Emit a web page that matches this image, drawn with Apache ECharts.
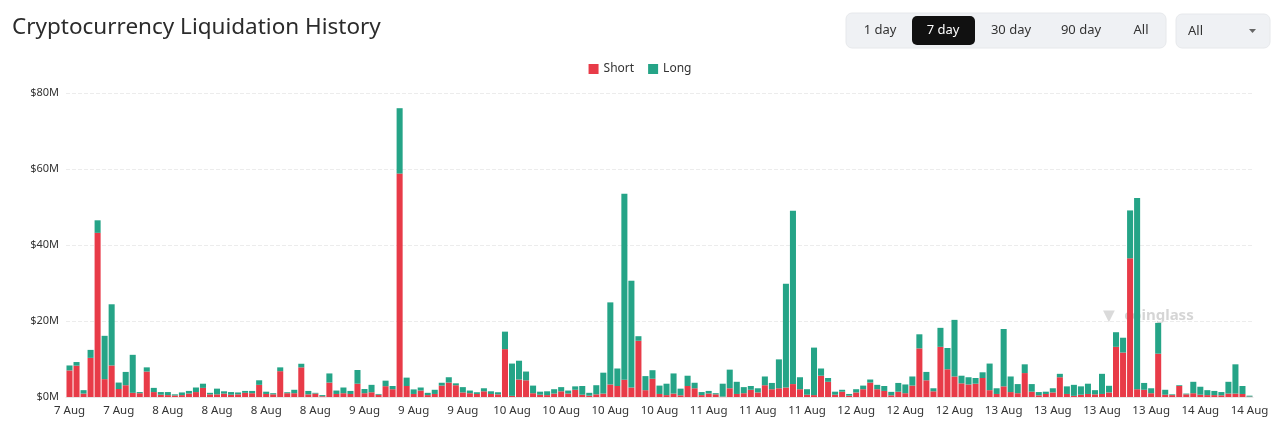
<!DOCTYPE html>
<html>
<head>
<meta charset="utf-8">
<script src="https://cdn.jsdelivr.net/npm/echarts@6/dist/echarts.min.js"></script>
<style>
html,body{margin:0;padding:0;background:#fff;}
#chart{width:1280px;height:435px;}
</style>
</head>
<body>
<div id="chart"></div>
<script>
// Hourly buckets starting 7 Aug 11:00, 169 bars
const startHourUTC = Date.UTC(2024, 7, 7, 11);
const barCount = 169;
const monthNames = ['Jan','Feb','Mar','Apr','May','Jun','Jul','Aug','Sep','Oct','Nov','Dec'];
const categories = [];
for (let i = 0; i < barCount; i++) {
  const d = new Date(startHourUTC + i * 3600000);
  categories.push(d.getUTCDate() + ' ' + monthNames[d.getUTCMonth()] + ' ' + String(d.getUTCHours()).padStart(2,'0') + ':00');
}

// values in $M
const shortValues = [
7.0,8.25,0.9,10.3,43.2,4.7,8.3,2.1,3.1,1.1,1.0,6.7,1.3,0.6,0.5,0.4,0.5,0.9,1.3,2.4,
0.7,0.7,0.9,0.6,0.7,1.1,1.0,3.2,0.8,0.7,6.8,1.0,1.0,7.8,0.7,0.9,0.2,3.8,0.8,1.0,
0.8,3.5,1.0,1.25,0.6,2.85,2.05,58.8,2.9,0.8,1.7,0.5,0.8,3.0,3.8,3.1,1.2,1.0,0.8,1.5,
0.8,0.7,12.6,0.3,4.6,4.4,1.0,0.6,0.5,0.9,1.5,0.9,1.9,0.6,0.35,0.7,0.9,3.3,2.9,4.55,
2.5,14.8,1.8,4.8,0.8,0.5,0.9,0.45,2.9,2.3,0.5,0.9,0.7,0.1,2.3,0.8,1.0,1.9,1.2,3.1,
2.05,2.3,2.5,3.4,2.05,0.6,0.5,5.6,4.0,0.6,1.4,0.35,1.2,2.05,3.8,2.05,1.6,0.45,1.4,1.0,
3.0,12.8,4.4,1.5,13.2,7.3,5.4,3.6,3.3,3.5,5.0,1.8,0.8,2.8,1.3,1.0,6.3,1.4,0.45,0.8,
1.2,5.2,0.8,0.3,0.6,0.8,0.7,0.8,1.2,13.2,11.7,36.5,2.05,1.9,1.0,11.4,0.6,0.5,2.9,0.7,
1.0,0.6,0.5,0.5,0.45,0.9,0.9,0.8,0.1
];
const longValues = [
1.3,0.95,0.9,2.1,3.3,11.4,16.1,1.7,3.5,10.0,0.3,1.1,1.1,0.7,0.8,0.3,0.7,0.7,1.2,1.1,
0.4,1.5,0.6,0.7,0.5,0.5,0.6,1.2,0.6,0.3,1.0,0.25,0.9,0.95,0.9,0.2,0.3,2.4,0.9,1.5,
0.8,3.6,1.1,1.95,0.2,1.45,0.85,17.2,2.2,1.2,0.8,0.6,1.1,0.75,1.4,0.5,1.4,0.7,0.45,0.8,
0.7,0.55,4.6,8.5,4.95,2.3,2.0,0.8,1.0,1.15,1.1,0.8,0.9,2.3,0.75,2.4,5.5,21.6,4.6,48.95,
28.1,1.2,3.7,2.25,2.2,3.0,5.3,1.75,2.7,1.45,0.8,0.7,0.3,3.4,4.9,3.2,1.6,1.0,1.1,2.3,
1.65,7.6,27.3,45.6,3.15,1.45,12.5,1.9,1.0,0.8,0.5,0.45,0.85,0.95,0.8,1.15,1.3,0.9,2.3,2.3,
2.4,3.7,2.2,0.8,5.0,5.6,14.9,2.0,1.9,1.5,1.5,7.0,1.5,15.1,4.1,2.4,2.3,2.0,0.85,0.6,
1.1,0.9,2.0,2.9,2.2,2.7,1.1,5.3,1.75,3.85,3.9,12.6,50.35,1.8,1.3,8.1,1.3,0.2,0.2,0.2,
3.0,2.1,1.3,1.1,0.85,3.1,7.7,2.1,0.25
];
const yTicks = [0, 20, 40, 60, 80];
const rangeButtons = ['1 day', '7 day', '30 day', '90 day', 'All'];
const selectedRange = '7 day';

const FONT = 'Noto Sans';
const RED = '#e83b48';
const GREEN = '#25a487';

const chart = echarts.init(document.getElementById('chart'));

// header controls as graphic elements
const btnCenters = [880, 943, 1011, 1081, 1141];
const graphics = [
  { type: 'text', x: 12, y: 28, style: { text: 'Cryptocurrency Liquidation History', font: '400 22.5px ' + FONT, fill: '#2b2b2b', textVerticalAlign: 'middle' } },
  { type: 'rect', shape: { x: 846, y: 13, width: 320, height: 35, r: 6 }, style: { fill: '#eff1f4', stroke: '#e6e8eb' } },
  { type: 'rect', shape: { x: 1176, y: 14, width: 94, height: 34, r: 6 }, style: { fill: '#eff1f4', stroke: '#e6e8eb' } },
  { type: 'text', x: 1188, y: 31, style: { text: 'All', font: '13px ' + FONT, fill: '#333', textVerticalAlign: 'middle' } },
  { type: 'polygon', shape: { points: [[1249, 29], [1256, 29], [1252.5, 33]] }, style: { fill: '#666' } },
  { type: 'text', x: 1109, y: 316, style: { text: '\u25BC', font: 'bold 20px ' + FONT, fill: 'rgba(150,150,150,0.35)', textAlign: 'center', textVerticalAlign: 'middle' } },
  { type: 'text', x: 1159, y: 316, style: { text: 'coinglass', font: 'bold 15px ' + FONT, fill: 'rgba(150,150,150,0.4)', textAlign: 'center', textVerticalAlign: 'middle' } }
];
rangeButtons.forEach((b, i) => {
  const sel = b === selectedRange;
  if (sel) {
    graphics.push({ type: 'rect', shape: { x: 912, y: 16, width: 63, height: 29, r: 5 }, style: { fill: '#111' } });
  }
  graphics.push({ type: 'text', x: btnCenters[i], y: 30.5, style: { text: b, font: '13px ' + FONT, fill: sel ? '#fff' : '#333', textAlign: 'center', textVerticalAlign: 'middle' } });
});

chart.setOption({
  animation: false,
  textStyle: { fontFamily: FONT },
  graphic: graphics,
  legend: {
    top: 58, left: 'center', itemWidth: 10, itemHeight: 10, itemGap: 14,
    icon: 'rect',
    textStyle: { fontSize: 12, color: '#333', fontFamily: FONT },
    data: ['Short', 'Long']
  },
  grid: { left: 66, right: 27, top: 93, bottom: 38 },
  xAxis: {
    type: 'category',
    data: categories,
    axisTick: { show: false },
    axisLine: { lineStyle: { color: '#e6e6e6' } },
    axisLabel: {
      interval: 6, color: '#333', fontSize: 11.5, margin: 8, fontFamily: FONT,
      formatter: v => v.split(' ').slice(0, 2).join(' ')
    }
  },
  yAxis: {
    type: 'value', min: yTicks[0], max: yTicks[yTicks.length - 1], interval: 20,
    axisLine: { show: false }, axisTick: { show: false },
    splitLine: { lineStyle: { color: '#ececec', type: 'dashed' } },
    axisLabel: { color: '#333', fontSize: 11, margin: 7, fontFamily: FONT, formatter: v => '$' + v + 'M' }
  },
  series: [
    { name: 'Short', type: 'bar', stack: 'liq', data: shortValues, itemStyle: { color: RED }, barCategoryGap: '14%' },
    { name: 'Long', type: 'bar', stack: 'liq', data: longValues, itemStyle: { color: GREEN }, barCategoryGap: '14%' }
  ]
});
</script>
</body>
</html>
